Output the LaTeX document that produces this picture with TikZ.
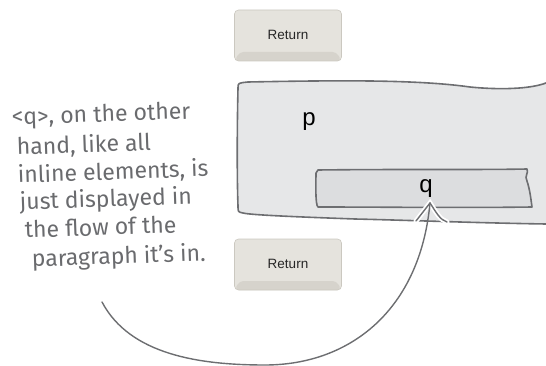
\documentclass[tikz,border=0pt]{standalone}
\usepackage{fontspec}
\setmainfont{Liberation Sans}
\newfontfamily\handfont{Fira Sans}
\usetikzlibrary{calc}
\definecolor{rand}{HTML}{6D6E71}
\definecolor{pgrau}{HTML}{E6E7E8}
\definecolor{qgrau}{HTML}{DCDDDF}
\definecolor{tinte}{HTML}{6A6B6E}
\definecolor{tastef}{HTML}{E5E3DD}
\definecolor{tastek}{HTML}{CBC8C0}
\definecolor{tasteb}{HTML}{D6D3CC}
\tikzset{
  kasten/.style={draw=rand,line width=1.6pt,line join=round},
  tastatur/.style={rounded corners=4pt,fill=tastef,draw=tastek,line width=0.6pt,
    minimum width=107pt,minimum height=51pt,inner sep=0pt,
    font=\fontsize{13.5}{14}\selectfont,text=black!85,
    path picture={\fill[tasteb] (path picture bounding box.south west) -- ++(5pt,9pt)
      -- ($(path picture bounding box.south east)+(-5pt,9pt)$)
      -- (path picture bounding box.south east) -- cycle;}},
  notiz/.style={tinte,font=\handfont\fontsize{23}{23}\selectfont,anchor=base west,inner sep=0pt,rotate=2},
  pfeil/.style={rand,line width=1.4pt,line cap=round},
  halo/.style={white,line width=5pt,line cap=round},
}

\begin{document}
\begin{tikzpicture}[x=1pt,y=-1pt]
  \useasboundingbox (0,0) rectangle (546,366);
  % Tasten
  \node[tastatur] (oben) at (288,35.5) {\raisebox{2pt}{Return}};
  \node[tastatur] (unten) at (288,264.5) {\raisebox{2pt}{Return}};
  % p-Kasten
  \fill[pgrau] (238,88) .. controls (238,83) .. (248,82) .. controls (350,80) and (420,80) .. (470,87)
    .. controls (500,90) and (530,89) .. (546,83) -- (546,224)
    .. controls (480,223) and (400,220) .. (355,219) .. controls (300,217) and (250,215) .. (243,213)
    .. controls (238,212) .. (238,206) -- cycle;
  \draw[kasten] (546,83) .. controls (530,89) and (500,90) .. (470,87)
    .. controls (420,80) and (350,80) .. (248,82) .. controls (238,83) .. (238,88)
    .. controls (237,130) and (237,180) .. (238,206) .. controls (238,212) .. (243,213)
    .. controls (250,215) and (300,217) .. (355,219) .. controls (400,220) and (480,223) .. (546,224);
  \node[font=\fontsize{24}{24}\selectfont,anchor=base,inner sep=0pt] (plbl) at (309,126) {p};
  % q-Kasten
  \draw[kasten,fill=qgrau] (318,170) .. controls (400,169) and (480,170) .. (527,169)
    .. controls (529,173) and (524,176) .. (527,181) .. controls (530,190) and (531,200) .. (532,207)
    .. controls (460,208) and (380,207) .. (318,207) .. controls (315,205) and (316,180) .. (316,173) -- cycle;
  \node[font=\fontsize{24}{24}\selectfont,anchor=base,inner sep=0pt] (qlbl) at (426,193) {q};
  % Notiz
  \node[notiz] (zeile1) at (12,125) {<q>, on the other};
  \node[notiz] (zeile2) at (17,155) {hand, like all};
  \node[notiz] (zeile3) at (18,183) {inline elements, is};
  \node[notiz] (zeile4) at (20,210) {just displayed in};
  \node[notiz] (zeile5) at (25,238) {the flow of the};
  \node[notiz] (zeile6) at (32,267) {paragraph it’s in.};
  % Pfeil
  \coordinate (anfang) at (102,302);
  \coordinate (spitze) at ($(qlbl.base)+(4,10)$);
  \draw[halo] (416,221) -- (spitze) .. controls (436,212) and (440,220) .. (447,222);
  \draw[pfeil] (anfang) .. controls (130,355) and (200,365) .. (265,365)
    .. controls (350,365) and (420,310) .. (spitze);
  \draw[pfeil] (416,221) -- (spitze) .. controls (436,212) and (440,220) .. (447,222);
\end{tikzpicture}
\end{document}
